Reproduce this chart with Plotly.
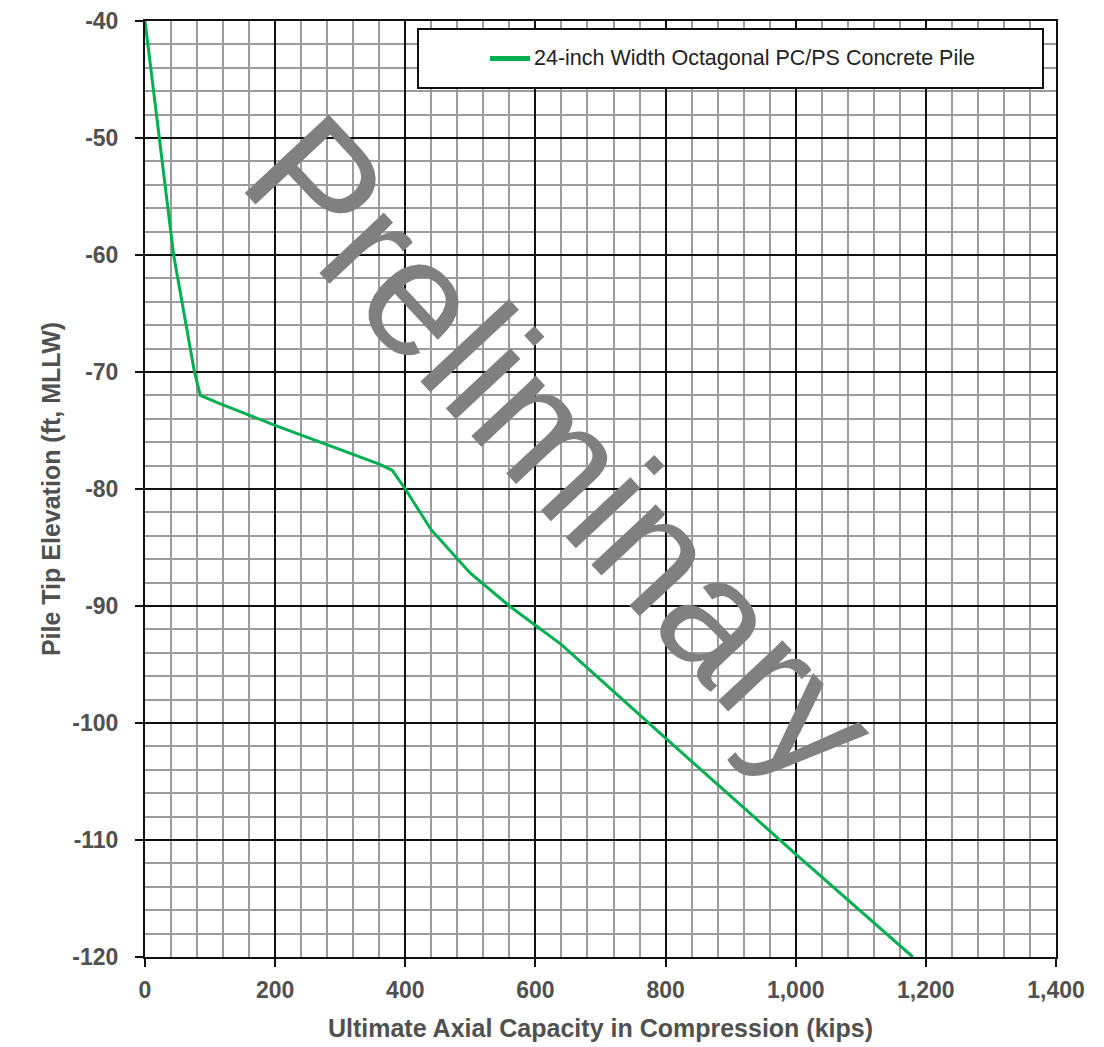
import plotly.graph_objects as go

# Data
capacity_kips = [0, 22, 44, 76, 85, 115, 202, 361, 380, 400, 440, 500, 560, 640, 800, 1000, 1180]
tip_elev_ft = [-40, -50, -60, -70, -72, -72.7, -74.6, -77.9, -78.4, -80, -83.5, -87.2, -90, -93.3, -101.3, -111.2, -120]
series_name = "24-inch Width Octagonal PC/PS Concrete Pile"
x_ticks = [0, 200, 400, 600, 800, 1000, 1200, 1400]
x_tick_labels = ["0", "200", "400", "600", "800", "1,000", "1,200", "1,400"]
y_ticks = [-40, -50, -60, -70, -80, -90, -100, -110, -120]
y_tick_labels = ["-40", "-50", "-60", "-70", "-80", "-90", "-100", "-110", "-120"]

L, R, T, B = 145, 48, 21, 90
W, H = 1104, 1047
pw, ph = W - L - R, H - T - B

def px2paper_x(px):
    return (px - L) / pw

def px2paper_y(py):
    return (H - B - py) / ph

fig = go.Figure()
fig.add_trace(go.Scatter(
    x=capacity_kips, y=tip_elev_ft, mode="lines", name=series_name,
    line=dict(color="rgb(0,176,80)", width=3), showlegend=False,
))

axis_font = dict(family="Liberation Sans, Arial, sans-serif", size=23, color="#505050", weight="bold")
title_font = dict(family="Liberation Sans, Arial, sans-serif", size=25, color="#505050", weight="bold")

fig.update_xaxes(
    range=[0, 1400], tickvals=x_ticks, ticktext=x_tick_labels, tickfont=axis_font,
    title=dict(text="Ultimate Axial Capacity in Compression (kips)", font=title_font, standoff=18),
    showgrid=True, gridcolor="#111111", gridwidth=1.8,
    minor=dict(dtick=40, tick0=0, showgrid=True, gridcolor="#9c9c9c", gridwidth=1.5, ticks=""),
    showline=True, linecolor="#111111", linewidth=2, mirror=True,
    ticks="outside", ticklen=8, tickwidth=2, tickcolor="#111111",
    ticklabelstandoff=3, zeroline=False, automargin=False,
)
fig.update_yaxes(
    range=[-120, -40], tickvals=y_ticks, ticktext=y_tick_labels, tickfont=axis_font,
    title=dict(text="Pile Tip Elevation (ft, MLLW)", font=title_font, standoff=5),
    showgrid=True, gridcolor="#111111", gridwidth=1.8,
    minor=dict(dtick=2, tick0=-40, showgrid=True, gridcolor="#9c9c9c", gridwidth=1.5, ticks=""),
    showline=True, linecolor="#111111", linewidth=2, mirror=True,
    ticks="outside", ticklen=8, tickwidth=2, tickcolor="#111111",
    ticklabelstandoff=12, zeroline=False, automargin=False,
)

# Manual legend box (centered content, like the reference)
fig.add_shape(type="rect", xref="paper", yref="paper",
              x0=px2paper_x(418), x1=px2paper_x(1043), y0=px2paper_y(88), y1=px2paper_y(29),
              line=dict(color="#111111", width=2), fillcolor="white", layer="above")
fig.add_shape(type="line", xref="paper", yref="paper",
              x0=px2paper_x(490), x1=px2paper_x(530), y0=px2paper_y(58.5), y1=px2paper_y(58.5),
              line=dict(color="rgb(0,176,80)", width=5), layer="above")
fig.add_annotation(xref="paper", yref="paper", x=px2paper_x(532), y=px2paper_y(58.5),
                   text=series_name, showarrow=False, xanchor="left", yanchor="middle",
                   font=dict(family="Liberation Sans, Arial, sans-serif", size=21.5, color="#222222"))

# Watermark
fig.add_annotation(xref="x", yref="y", x=642, y=-76.6, text="Preliminary", showarrow=False,
                   textangle=47, xanchor="center", yanchor="middle",
                   font=dict(family="Liberation Sans, Arial, sans-serif", size=167, color="#808080"))

fig.update_layout(
    width=W, height=H, margin=dict(l=L, r=R, t=T, b=B),
    plot_bgcolor="white", paper_bgcolor="white",
)

fig.write_html("out.html")
